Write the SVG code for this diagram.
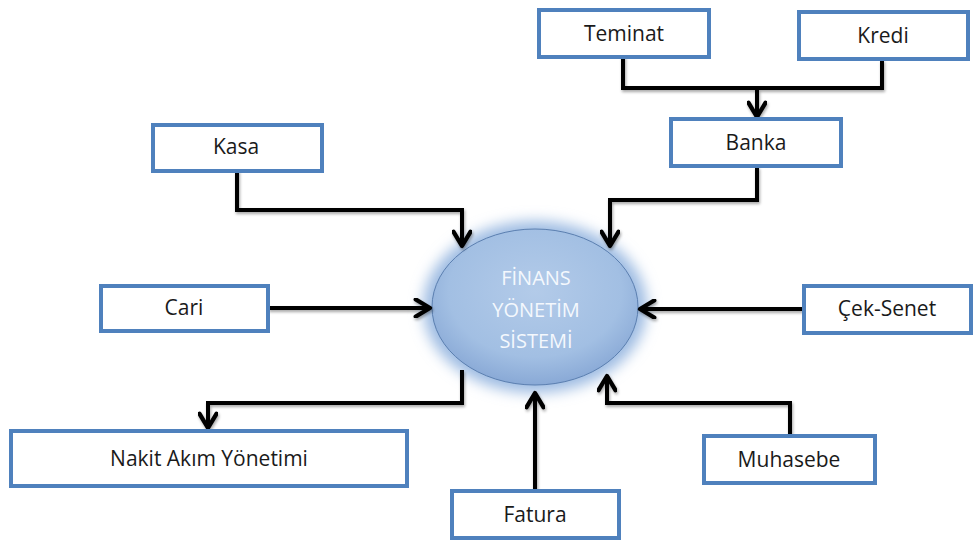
<svg xmlns="http://www.w3.org/2000/svg" width="973" height="541" viewBox="0 0 973 541">
  <style>
    .box rect { fill: #ffffff; stroke: #4f81bd; stroke-width: 4; }
    .box text { font-family: "Open Sans", "Liberation Sans", sans-serif; font-size: 21px; fill: #1a1a1a; text-anchor: middle; }
    .wire { fill: none; stroke: #000000; stroke-width: 4; stroke-linejoin: miter; marker-end: url(#chev); }
    .plain { fill: none; stroke: #000000; stroke-width: 4; }
    .core text { font-family: "Open Sans", "Liberation Sans", sans-serif; font-size: 20px; fill: #f4f8fd; text-anchor: middle; }
  </style>
  <defs>
    <marker id="chev" viewBox="0 0 14 14" refX="12" refY="7" markerWidth="5" markerHeight="5" orient="auto" markerUnits="strokeWidth">
      <path d="M2,1 L12,7 L2,13" fill="none" stroke="#000" stroke-width="3" stroke-linecap="round" stroke-linejoin="round"/>
    </marker>
    <filter id="shadow" x="-10%" y="-10%" width="130%" height="130%">
      <feGaussianBlur in="SourceAlpha" stdDeviation="1.5"/>
      <feOffset dx="1" dy="2" result="b"/>
      <feComponentTransfer><feFuncA type="linear" slope="0.35"/></feComponentTransfer>
      <feMerge><feMergeNode/><feMergeNode in="SourceGraphic"/></feMerge>
    </filter>
    <filter id="glow" x="-30%" y="-30%" width="160%" height="160%">
      <feGaussianBlur stdDeviation="7"/>
    </filter>
    <radialGradient id="orb" cx="50%" cy="40%" r="60%">
      <stop offset="0" stop-color="#b3cbe9"/>
      <stop offset="0.7" stop-color="#a2bfe3"/>
      <stop offset="1" stop-color="#89a9d6"/>
    </radialGradient>
  </defs>

  <rect width="973" height="541" fill="#ffffff"/>

  <!-- central system node -->
  <g id="finans-yonetim-sistemi" class="core">
    <ellipse cx="535" cy="307" rx="112" ry="86" fill="#9dbbe2" filter="url(#glow)"/>
    <ellipse cx="535" cy="307" rx="103" ry="78" fill="url(#orb)" stroke="#5b7fb0" stroke-width="1"/>
    <text x="536" y="285">FİNANS</text>
    <text x="536" y="317">YÖNETİM</text>
    <text x="536" y="348">SİSTEMİ</text>
  </g>

  <!-- connectors -->
  <g id="connectors" filter="url(#shadow)">
    <path class="plain" d="M623,56 V88 H882 V60"/>
    <path class="wire" d="M757,88 V117"/>
    <path class="wire" d="M757,167 V200 H610 V246"/>
    <path class="wire" d="M237,170 V210 H462 V246"/>
    <path class="wire" d="M268,308 H430"/>
    <path class="wire" d="M803,309 H640"/>
    <path class="wire" d="M790,435 V403 H607 V376"/>
    <path class="wire" d="M535,490 V393"/>
    <path class="wire" d="M462,370 V403 H208 V428"/>
  </g>

  <g id="teminat" class="box"><rect x="539" y="10" width="170" height="47"/><text x="624" y="41">Teminat</text></g>
  <g id="kredi" class="box"><rect x="799" y="12" width="169" height="47"/><text x="883" y="43">Kredi</text></g>
  <g id="banka" class="box"><rect x="671" y="119" width="170" height="47"/><text x="756" y="150">Banka</text></g>
  <g id="kasa" class="box"><rect x="153" y="125" width="169" height="46"/><text x="236" y="154">Kasa</text></g>
  <g id="cari" class="box"><rect x="101" y="286" width="167" height="45"/><text x="184" y="315">Cari</text></g>
  <g id="cek-senet" class="box"><rect x="804" y="286" width="167" height="47"/><text x="887" y="316">Çek-Senet</text></g>
  <g id="muhasebe" class="box"><rect x="704" y="436" width="171" height="47"/><text x="789" y="467">Muhasebe</text></g>
  <g id="nakit-akim-yonetimi" class="box"><rect x="11" y="431" width="396" height="55"/><text x="209" y="466">Nakit Akım Yönetimi</text></g>
  <g id="fatura" class="box"><rect x="452" y="491" width="167" height="47"/><text x="535" y="522">Fatura</text></g>
</svg>
